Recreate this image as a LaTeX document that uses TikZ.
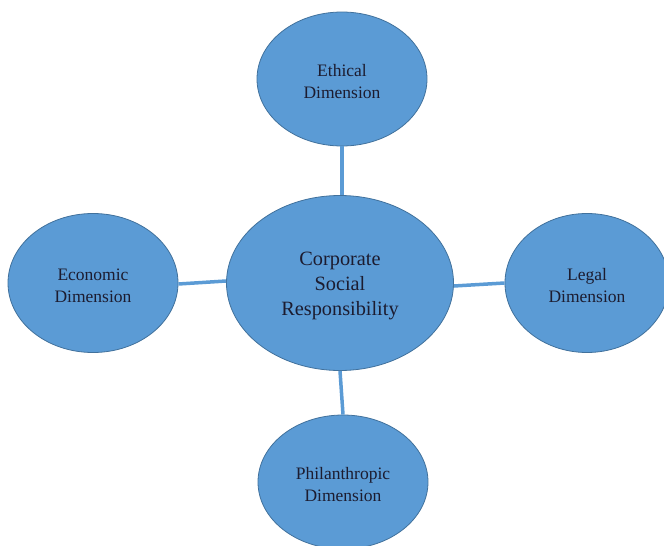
\documentclass[tikz,border=0pt]{standalone}
\usepackage{fontspec}
\setmainfont{Liberation Serif}
\usetikzlibrary{shapes.geometric}
\definecolor{fillblue}{HTML}{5B9BD5}
\definecolor{edgeblue}{HTML}{41719C}
\definecolor{lineblue}{HTML}{5B9BD5}
\definecolor{txt}{HTML}{1C1C30}
\begin{document}
\begin{tikzpicture}[x=1pt,y=-1pt,
  bubble/.style={ellipse,fill=fillblue,draw=edgeblue,line width=0.8pt,inner sep=0pt},
  smalltext/.style={text=txt,align=center,font=\fontsize{17.5}{22}\selectfont,yshift=-2.5pt},
  bigtext/.style={text=txt,align=center,font=\fontsize{20.3}{25}\selectfont,yshift=-3pt},
  link/.style={draw=lineblue,line width=3.5pt}]
\useasboundingbox (0,0) rectangle (664,546);
\node[bubble,minimum width=227pt,minimum height=175pt,
  label={[bigtext]center:Corporate\\Social\\Responsibility}] (csr) at (340,283) {};
\node[bubble,minimum width=170pt,minimum height=134pt,
  label={[smalltext]center:Ethical\\Dimension}] (eth) at (342,79) {};
\node[bubble,minimum width=170pt,minimum height=139pt,
  label={[smalltext]center:Economic\\Dimension}] (eco) at (93,283) {};
\node[bubble,minimum width=164pt,minimum height=139pt,
  label={[smalltext]center:Legal\\Dimension}] (leg) at (587,283) {};
\node[bubble,minimum width=170pt,minimum height=134pt,
  label={[smalltext]center:Philanthropic\\Dimension}] (phi) at (343,482) {};
\draw[link] (eth.south) -- (eth.south |- csr.north);
\draw[link] ([yshift=-1pt]eco.east) -- ([yshift=2pt]csr.west);
\draw[link] ([yshift=-3pt]csr.east) -- (leg.west);
\draw[link] (csr.south) -- (phi.north);
\end{tikzpicture}
\end{document}
